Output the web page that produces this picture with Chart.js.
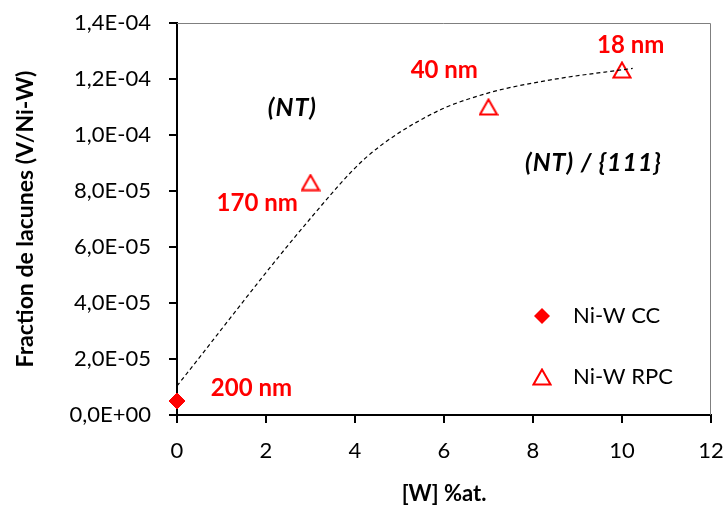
<!DOCTYPE html>
<html>
<head>
<meta charset="utf-8">
<script src="https://cdn.jsdelivr.net/npm/chart.js@4.4.0/dist/chart.umd.min.js"></script>
<style>
  html, body { margin: 0; padding: 0; background: #fff; }
  #wrap { width: 726px; height: 507px; }
</style>
</head>
<body>
<div id="wrap"><canvas id="chart" width="726" height="507"></canvas></div>
<script>
// values
const ccX = [0];
const ccY = [5.0e-6];
const rpcX = [3, 7, 10];
const rpcY = [8.3e-5, 1.10e-4, 1.232e-4];
// dashed trend curve
const trendX = [0, 3.02, 4.26, 5.75, 6.95, 8.37, 10.24];
const trendY = [1.04e-5, 7.06e-5, 9.21e-5, 1.077e-4, 1.148e-4, 1.196e-4, 1.238e-4];
const xTicks = [0, 2, 4, 6, 8, 10, 12];
const yTicks = [0, 2e-5, 4e-5, 6e-5, 8e-5, 1.0e-4, 1.2e-4, 1.4e-4];
const yTickLabels = ["0,0E+00", "2,0E-05", "4,0E-05", "6,0E-05", "8,0E-05", "1,0E-04", "1,2E-04", "1,4E-04"];
const seriesNames = ["Ni-W CC", "Ni-W RPC"];

// text notes placed in data units (left edge, vertical middle)
const notes = [
  { text: "200 nm", x: 0.76, y: 9.6e-6, red: true },
  { text: "170 nm", x: 0.89, y: 7.57e-5, red: true },
  { text: "40 nm", x: 5.25, y: 1.232e-4, red: true },
  { text: "18 nm", x: 9.44, y: 1.321e-4, red: true },
  { text: "(NT)", x: 2.04, y: 1.096e-4, red: false },
  { text: "(NT) / {111}", x: 7.82, y: 8.99e-5, red: false },
];

const RED = "#ff0000";
const FONT = "Lato, 'Open Sans', sans-serif";

function pts(xs, ys) {
  return xs.map((x, i) => ({ x: x, y: ys[i] }));
}

// open triangle marker centred on its bounding box, like the spreadsheet one
function makeTriangle() {
  const c = document.createElement("canvas");
  c.width = 20;
  c.height = 18;
  const g = c.getContext("2d");
  g.strokeStyle = RED;
  g.lineWidth = 2;
  g.beginPath();
  g.moveTo(10, 1.5);
  g.lineTo(18.5, 16.5);
  g.lineTo(1.5, 16.5);
  g.closePath();
  g.stroke();
  return c;
}
const triangleImg = makeTriangle();

const extras = {
  id: "extras",
  afterDraw(chart) {
    const ctx = chart.ctx;
    const a = chart.chartArea;
    const xs = chart.scales.x;
    const ys = chart.scales.y;

    // thin frame on top and right
    ctx.save();
    ctx.strokeStyle = "#7f7f7f";
    ctx.lineWidth = 1;
    ctx.beginPath();
    ctx.moveTo(a.left, a.top + 0.5);
    ctx.lineTo(a.right - 0.5, a.top + 0.5);
    ctx.lineTo(a.right - 0.5, a.bottom);
    ctx.stroke();
    ctx.restore();

    // notes
    ctx.save();
    ctx.textBaseline = "middle";
    ctx.textAlign = "left";
    notes.forEach((n) => {
      ctx.fillStyle = n.red ? RED : "#000";
      if (n.red) {
        ctx.font = "bold 24px " + FONT;
        ctx.letterSpacing = "0px";
      } else {
        ctx.font = "italic bold 25px " + FONT;
        ctx.letterSpacing = "1px";
      }
      ctx.fillText(n.text, xs.getPixelForValue(n.x), ys.getPixelForValue(n.y));
    });
    ctx.letterSpacing = "0px";
    ctx.restore();

    // legend inside the plot, bottom right
    const lx = 542, ly1 = 316, ly2 = 377;
    ctx.save();
    ctx.fillStyle = RED;
    ctx.beginPath();
    ctx.moveTo(lx, ly1 - 8);
    ctx.lineTo(lx + 8, ly1);
    ctx.lineTo(lx, ly1 + 8);
    ctx.lineTo(lx - 8, ly1);
    ctx.closePath();
    ctx.fill();
    ctx.drawImage(triangleImg, lx - 10, ly2 - 9);
    ctx.fillStyle = "#000";
    ctx.font = "22px " + FONT;
    ctx.textBaseline = "middle";
    ctx.fillText(seriesNames[0], 573, ly1);
    ctx.fillText(seriesNames[1], 573, ly2);
    ctx.restore();
  },
};

new Chart(document.getElementById("chart"), {
  type: "scatter",
  data: {
    datasets: [
      {
        label: "trend",
        data: pts(trendX, trendY),
        showLine: true,
        borderColor: "#000",
        borderWidth: 1.2,
        borderDash: [4, 3],
        cubicInterpolationMode: "monotone",
        pointRadius: 0,
        fill: false,
        clip: false,
        order: 1,
      },
      {
        label: seriesNames[0],
        data: pts(ccX, ccY),
        pointStyle: "rectRot",
        pointRadius: 8,
        backgroundColor: RED,
        borderColor: RED,
        borderWidth: 1,
        clip: false,
        order: 2,
      },
      {
        label: seriesNames[1],
        data: pts(rpcX, rpcY),
        pointStyle: triangleImg,
        pointRadius: 10,
        clip: false,
        order: 2,
      },
    ],
  },
  options: {
    responsive: false,
    animation: false,
    devicePixelRatio: 1,
    layout: { padding: { top: 23, right: 15, left: 0, bottom: 0 } },
    plugins: {
      legend: { display: false },
      tooltip: { enabled: false },
    },
    scales: {
      x: {
        type: "linear",
        min: 0,
        max: 12,
        afterBuildTicks: (s) => { s.ticks = xTicks.map((v) => ({ value: v })); },
        afterFit: (s) => {
          s.height = 92;
          s.paddingLeft = 0;
          s.paddingRight = 0;
        },
        grid: {
          drawOnChartArea: false,
          drawTicks: true,
          tickLength: 8,
          tickColor: "#000",
          lineWidth: 2,
        },
        border: { display: true, color: "#000", width: 2 },
        ticks: {
          color: "#000",
          padding: 15,
          font: { family: FONT, size: 22 },
          callback: (v) => String(v),
        },
        title: {
          display: true,
          text: "[W] %at.",
          color: "#000",
          font: { family: FONT, size: 22, weight: "bold" },
          padding: { top: 1, bottom: 0 },
        },
      },
      y: {
        type: "linear",
        min: 0,
        max: 1.4e-4,
        afterBuildTicks: (s) => { s.ticks = yTicks.map((v) => ({ value: v })); },
        afterFit: (s) => {
          s.width = 177;
          s.paddingTop = 0;
          s.paddingBottom = 0;
        },
        grid: {
          drawOnChartArea: false,
          drawTicks: true,
          tickLength: 8,
          tickColor: "#000",
          lineWidth: 2,
        },
        border: { display: true, color: "#000", width: 2 },
        ticks: {
          color: "#000",
          padding: 18,
          font: { family: FONT, size: 22 },
          callback: (v, i) => yTickLabels[i],
        },
        title: {
          display: true,
          text: "Fraction de lacunes (V/Ni-W)",
          color: "#000",
          font: { family: FONT, size: 23, weight: "bold" },
          padding: { top: 12, bottom: 0 },
        },
      },
    },
  },
  plugins: [extras],
});
</script>
</body>
</html>
